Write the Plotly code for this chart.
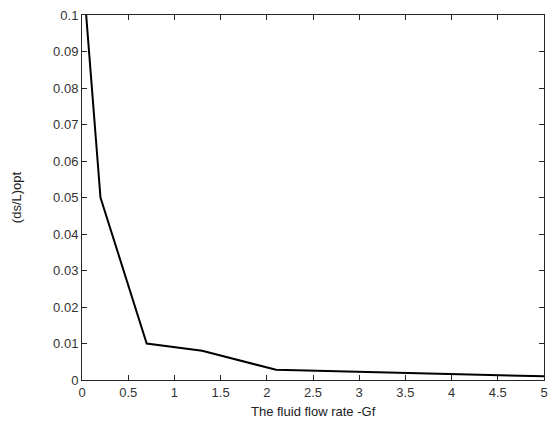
import plotly.graph_objects as go

flow_rate = [0.045, 0.2, 0.7, 1.3, 2.1, 3.0, 4.0, 5.0]
ds_L_opt = [0.1, 0.05, 0.01, 0.008, 0.0028, 0.0022, 0.0015, 0.001]

x_ticks = [0, 0.5, 1, 1.5, 2, 2.5, 3, 3.5, 4, 4.5, 5]
x_tick_text = ["0", "0.5", "1", "1.5", "2", "2.5", "3", "3.5", "4", "4.5", "5"]
y_ticks = [0, 0.01, 0.02, 0.03, 0.04, 0.05, 0.06, 0.07, 0.08, 0.09, 0.1]
y_tick_text = ["0", "0.01", "0.02", "0.03", "0.04", "0.05", "0.06", "0.07", "0.08", "0.09", "0.1"]

fig = go.Figure()
fig.add_trace(go.Scatter(x=flow_rate, y=ds_L_opt, mode="lines",
                         line=dict(color="black", width=2), cliponaxis=True))

axis_common = dict(showline=True, linecolor="#262626", linewidth=1, mirror="ticks",
                   ticks="inside", ticklen=5, tickcolor="#262626", showgrid=False,
                   zeroline=False, ticklabeloverflow="allow",
                   tickfont=dict(family="Liberation Sans, Arial", size=13, color="#333"))

fig.update_layout(
    width=548, height=425,
    margin=dict(l=82, r=4, t=15, b=45),
    paper_bgcolor="white", plot_bgcolor="white",
    showlegend=False,
    font=dict(family="Liberation Sans, Arial", size=13, color="#222"),
    xaxis=dict(range=[0, 5], tickvals=x_ticks, ticktext=x_tick_text,
               automargin=False, **axis_common),
    yaxis=dict(range=[0, 0.1], tickvals=y_ticks, ticktext=y_tick_text, automargin=True,
               title=dict(text="(ds/L)opt", standoff=28, font=dict(size=13)), **axis_common),
    annotations=[dict(text="The fluid flow rate -Gf", xref="paper", yref="paper",
                      x=0.5, y=0, yanchor="middle", yshift=-31, showarrow=False,
                      font=dict(size=13, color="#222"))],
)

fig.write_html("out.html")
